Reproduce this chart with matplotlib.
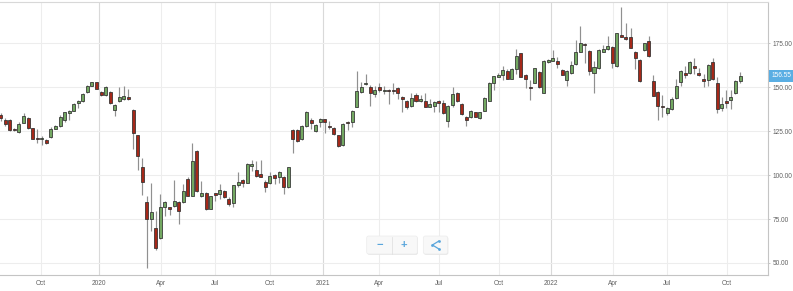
import matplotlib
matplotlib.use("Agg")
import matplotlib.pyplot as plt
import matplotlib.transforms as mtransforms
from matplotlib.patches import FancyBboxPatch
import numpy as np

# weekly candles, oldest first (Jul 2019 -> Oct 2022)
opens = [
    134.3, 131.1, 131.4, 126.5, 124.4, 129.9, 132.4, 126.7, 121.0, 120.5,
    120.1, 121.6, 126.5, 128.2, 131.1, 135.2, 136.7, 140.9, 142.2, 147.3,
    150.9, 152.8, 147.5, 145.5, 147.5, 137.1, 142.0, 143.2, 144.3, 137.1,
    122.7, 104.4, 84.7, 75.0, 69.9, 64.2, 81.8, 81.6, 82.2, 84.5,
    84.7, 97.9, 88.4, 113.8, 87.9, 89.8, 80.9, 89.6, 89.2, 90.9,
    86.4, 84.1, 94.1, 97.3, 95.8, 105.3, 102.7, 100.4, 96.0, 95.5,
    99.8, 98.7, 99.2, 93.0, 125.6, 125.4, 120.5, 127.7, 131.2, 125.2,
    130.1, 131.8, 128.0, 127.1, 122.7, 116.9, 130.5, 130.1, 139.0, 147.5,
    151.7, 150.4, 146.2, 150.2, 147.9, 148.5, 148.7, 149.5, 144.7, 142.4,
    139.4, 145.5, 142.2, 142.4, 139.0, 139.4, 142.0, 141.1, 131.0, 140.0,
    147.0, 140.7, 133.3, 133.0, 135.8, 132.6, 136.7, 142.4, 152.7, 156.1,
    157.2, 159.1, 154.9, 160.4, 169.3, 157.0, 150.0, 152.7, 158.9, 147.0,
    164.4, 165.2, 165.0, 160.0, 154.2, 158.1, 163.1, 170.3, 174.8, 170.6,
    158.3, 160.8, 170.3, 171.6, 173.1, 162.1, 179.7, 178.4, 178.8, 170.3,
    165.5, 171.2, 176.5, 153.8, 147.2, 139.4, 135.6, 137.5, 143.8, 152.8,
    158.3, 157.9, 162.1, 158.3, 154.9, 154.1, 164.4, 152.7, 138.1, 141.9,
    142.6, 146.6, 153.8]
highs = [
    135.5, 132.5, 132.0, 127.0, 130.0, 135.6, 133.0, 127.0, 126.3, 122.3,
    120.5, 127.3, 128.6, 134.3, 136.2, 137.0, 141.0, 142.8, 146.6, 151.2,
    153.2, 153.2, 148.0, 151.0, 148.0, 140.5, 150.0, 150.8, 148.9, 137.5,
    123.0, 110.0, 87.9, 95.8, 79.4, 89.2, 85.2, 82.0, 97.3, 85.0,
    95.1, 99.2, 118.2, 114.2, 96.4, 90.2, 88.3, 90.0, 95.1, 91.3,
    87.5, 94.5, 101.5, 98.0, 106.8, 108.5, 107.8, 108.7, 97.0, 102.0,
    100.5, 102.3, 99.6, 104.8, 126.0, 126.0, 128.4, 136.4, 132.3, 129.0,
    132.6, 132.2, 131.0, 127.5, 123.0, 129.6, 131.0, 137.0, 159.5, 153.0,
    157.5, 151.5, 150.5, 152.5, 151.0, 149.0, 152.5, 150.0, 145.0, 143.0,
    146.5, 147.0, 145.5, 146.5, 143.5, 142.2, 142.8, 142.8, 139.8, 150.0,
    147.5, 141.0, 133.8, 137.0, 136.2, 136.2, 144.5, 153.1, 156.6, 158.0,
    162.0, 160.4, 161.0, 171.6, 169.7, 157.4, 154.0, 161.2, 159.3, 165.6,
    166.0, 171.0, 167.0, 160.5, 160.0, 165.0, 176.9, 184.8, 175.3, 171.0,
    165.0, 171.6, 174.0, 179.2, 173.5, 181.1, 195.8, 186.4, 183.5, 170.7,
    165.9, 175.4, 179.2, 157.0, 147.6, 145.6, 138.5, 144.7, 154.5, 159.7,
    162.1, 164.8, 166.5, 161.0, 157.5, 163.1, 166.5, 156.0, 144.5, 148.5,
    148.5, 154.0, 158.5]
lows = [
    131.0, 127.7, 125.0, 125.3, 123.9, 129.5, 126.3, 120.5, 118.2, 117.2,
    117.5, 121.0, 126.0, 127.3, 130.5, 131.1, 136.3, 138.1, 141.8, 147.0,
    150.5, 149.0, 145.2, 145.0, 140.5, 133.7, 141.5, 142.8, 142.8, 114.8,
    103.0, 88.8, 47.2, 68.0, 57.2, 63.5, 76.5, 77.5, 81.8, 72.2,
    84.2, 88.0, 88.0, 90.5, 87.5, 80.3, 80.5, 85.5, 86.5, 87.2,
    82.5, 82.0, 93.5, 93.2, 95.4, 102.5, 99.2, 98.8, 90.5, 95.0,
    95.0, 95.5, 89.4, 92.5, 112.5, 119.0, 120.0, 127.3, 126.5, 124.8,
    127.5, 123.9, 126.0, 123.0, 115.9, 116.5, 125.5, 127.5, 138.6, 146.5,
    151.3, 139.5, 144.5, 147.5, 146.0, 140.5, 146.0, 143.5, 135.8, 137.5,
    139.0, 141.5, 141.5, 138.5, 138.6, 136.0, 136.0, 134.8, 127.3, 138.5,
    141.5, 134.0, 128.0, 132.5, 132.9, 132.2, 136.3, 142.0, 148.3, 155.7,
    154.0, 154.5, 154.5, 157.5, 155.7, 149.5, 142.8, 152.3, 149.6, 146.6,
    164.0, 164.8, 161.0, 156.8, 150.8, 157.7, 162.7, 169.9, 163.6, 157.0,
    146.6, 160.4, 169.9, 171.2, 161.0, 161.7, 178.4, 176.9, 172.1, 160.2,
    153.2, 170.8, 167.4, 144.9, 131.4, 133.3, 134.3, 137.1, 143.4, 150.5,
    155.0, 157.5, 157.5, 156.6, 150.0, 150.5, 154.3, 135.6, 136.5, 138.0,
    137.5, 146.2, 152.5]
closes = [
    132.4, 129.2, 125.4, 125.8, 129.2, 133.9, 126.7, 120.8, 120.5, 121.4,
    118.2, 126.3, 128.2, 133.3, 135.8, 136.6, 140.5, 142.4, 146.2, 150.8,
    152.8, 149.2, 145.6, 150.0, 140.9, 140.0, 144.3, 145.3, 143.2, 123.9,
    110.6, 96.2, 75.0, 78.8, 58.5, 81.8, 84.7, 80.7, 85.0, 79.7,
    91.1, 88.4, 108.1, 91.0, 89.8, 80.7, 87.9, 88.8, 91.7, 87.5,
    83.7, 94.1, 96.0, 95.5, 106.4, 106.2, 99.6, 99.2, 93.2, 99.6,
    98.1, 101.9, 93.0, 104.4, 120.5, 119.5, 128.0, 136.0, 129.4, 128.6,
    132.2, 130.1, 127.3, 123.5, 116.3, 129.2, 129.5, 136.6, 148.1, 150.4,
    152.7, 147.0, 148.3, 148.5, 148.7, 148.0, 148.0, 146.8, 143.6, 139.0,
    143.8, 142.2, 143.4, 139.0, 140.2, 141.7, 141.1, 135.2, 139.2, 146.0,
    141.9, 134.5, 131.3, 136.5, 133.3, 135.8, 144.1, 152.7, 156.2, 157.2,
    160.0, 154.9, 160.4, 167.8, 156.1, 154.9, 149.4, 160.8, 150.0, 165.2,
    165.5, 166.8, 163.1, 157.2, 159.5, 162.9, 169.9, 175.0, 173.9, 159.5,
    161.6, 171.2, 172.0, 173.7, 163.6, 180.7, 178.8, 177.3, 172.5, 166.9,
    153.6, 175.0, 167.8, 145.3, 139.4, 138.6, 138.1, 143.6, 150.8, 159.3,
    156.8, 164.4, 161.0, 157.0, 153.8, 162.7, 154.7, 137.5, 140.3, 140.9,
    144.4, 153.6, 156.55]

# axis ticks (positions in candle index units)
tick_pos = [8.9, 21.5, 35.1, 46.9, 58.9, 70.6, 83.0, 96.0, 109.1, 120.5, 134.1, 146.0, 159.2]
tick_labels = ["Oct", "2020", "Apr", "Jul", "Oct", "2021", "Apr", "Jul", "Oct", "2022", "Apr", "Jul", "Oct"]
y_ticks = [50, 75, 100, 125, 150, 175]
last_price = 156.55

plt.rcParams['font.family'] = ['Liberation Sans', 'DejaVu Sans']

o = np.array(opens)
h = np.array(highs)
l = np.array(lows)
c = np.array(closes)
x = np.arange(len(o))
up = c >= o

fig = plt.figure(figsize=(7.93, 2.91), dpi=100)
ax = fig.add_axes([0, 0.054, 0.9689, 0.939])
ax.set_xlim(-0.15, 168.2)
ax.set_ylim(43.0, 198.5)

#grid
for p, lab in zip(tick_pos, tick_labels):
    col = '#d9d9d9' if lab.isdigit() else '#ededed'
    ax.axvline(p, color=col, lw=0.8, zorder=0)
for v in y_ticks:
    ax.axhline(v, color='#ededed', lw=0.8, zorder=0)

#candles
ax.vlines(x, l, h, color='#909090', lw=0.85, zorder=2)
body = np.maximum(np.abs(c - o), 0.6)
cols = np.where(up, '#73a862', '#a52819')
ax.bar(x, body, bottom=np.minimum(o, c), width=0.66, color=cols,
       edgecolor='#2e2e2e', linewidth=0.55, zorder=3)

#axes look
ax.set_xticks(tick_pos)
ax.set_xticklabels(tick_labels)
ax.yaxis.tick_right()
ax.set_yticks(y_ticks)
ax.set_yticklabels(['%.2f' % v for v in y_ticks])
ax.tick_params(axis='x', length=0, pad=3.3, labelsize=4.7, labelcolor='#606060')
ax.tick_params(axis='y', length=1.5, width=0.6, color='#bdbdbd', pad=1.5,
               labelsize=4.7, labelcolor='#606060')
for lab in ax.get_yticklabels():
    lab.set_horizontalalignment('left')
ax.spines['left'].set_visible(False)
ax.spines['top'].set_color('#d8d8d8')
ax.spines['right'].set_color('#c4c4c4')
ax.spines['bottom'].set_color('#c4c4c4')
for s in ['top', 'right', 'bottom']:
    ax.spines[s].set_linewidth(0.8)

# last price flag
tr = mtransforms.blended_transform_factory(ax.transAxes, ax.transData)
ax.text(1.004, last_price, '%.2f' % last_price, transform=tr, ha='left', va='center',
        fontsize=4.7, color='white', clip_on=False,
        bbox=dict(boxstyle='square,pad=0.35', fc='#5aaee3', ec='none'))

# zoom / share buttons (pixel overlay)
ov = fig.add_axes([0, 0, 1, 1])
ov.set_xlim(0, 793)
ov.set_ylim(291, 0)
ov.axis('off')
ov.patch.set_alpha(0)
for bx, bw in [(366.7, 50.6), (423.3, 24.4)]:
    ov.add_patch(FancyBboxPatch((bx + 0.6, 236.8), bw, 18, boxstyle='round,pad=0,rounding_size=2',
                                fc='#e6e6e6', ec='none'))
    ov.add_patch(FancyBboxPatch((bx, 236), bw, 18, boxstyle='round,pad=0,rounding_size=2',
                                fc='#f8f8f8', ec='#ececec', lw=0.5))
ov.plot([391.7, 391.7], [236.5, 253.5], color='#e2e2e2', lw=0.6)
ov.text(379.3, 245, '\u2212', ha='center', va='center', fontsize=8, fontweight='bold', color='#5aa6dc')
ov.text(403.7, 245.3, '+', ha='center', va='center', fontsize=8, fontweight='bold', color='#5aa6dc')
ov.plot([438.6, 432.4, 438.6], [241.2, 245, 248.8], color='#5aa6dc', lw=0.9,
        marker='o', markersize=2.0, markeredgewidth=0)

fig.savefig('out.png', dpi=100)
